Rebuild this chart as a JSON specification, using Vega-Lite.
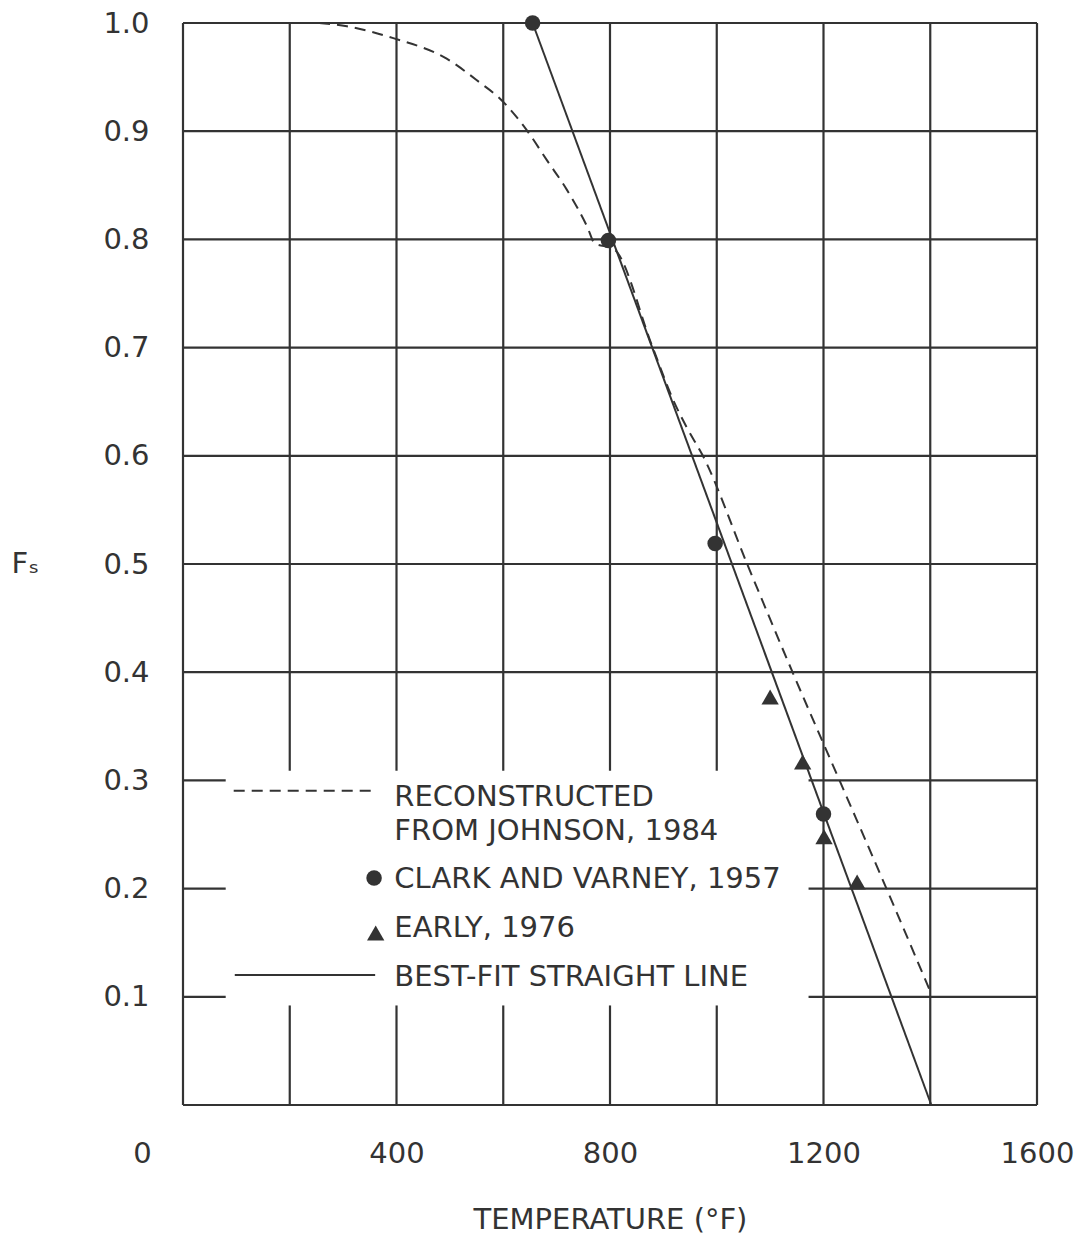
{
  "$schema": "https://vega.github.io/schema/vega-lite/v6.json",
  "width": 854,
  "height": 1082,
  "autosize": {"type": "none"},
  "padding": {"left": 183, "top": 23, "right": 52, "bottom": 151},
  "background": "white",
  "config": {
    "view": {"stroke": null},
    "font": "DejaVu Sans",
    "axis": {
      "labelFont": "DejaVu Sans",
      "labelFontSize": 29,
      "labelColor": "#333333",
      "titleFont": "DejaVu Sans",
      "titleFontSize": 29,
      "titleFontWeight": "normal",
      "titleColor": "#333333",
      "grid": false,
      "domain": false,
      "ticks": false,
      "tickSize": 0
    },
    "text": {"font": "DejaVu Sans", "fontSize": 29, "color": "#333333"}
  },
  "datasets": {
    "grid": [
      {"t": 0, "t2": 0, "fs": 0, "fs2": 1},
      {"t": 1200, "t2": 1200, "fs": 0, "fs2": 1},
      {"t": 1400, "t2": 1400, "fs": 0, "fs2": 1},
      {"t": 1600, "t2": 1600, "fs": 0, "fs2": 1},
      {"t": 200, "t2": 200, "fs": 0, "fs2": 0.092},
      {"t": 200, "t2": 200, "fs": 0.309, "fs2": 1},
      {"t": 400, "t2": 400, "fs": 0, "fs2": 0.092},
      {"t": 400, "t2": 400, "fs": 0.309, "fs2": 1},
      {"t": 600, "t2": 600, "fs": 0, "fs2": 0.092},
      {"t": 600, "t2": 600, "fs": 0.309, "fs2": 1},
      {"t": 800, "t2": 800, "fs": 0, "fs2": 0.092},
      {"t": 800, "t2": 800, "fs": 0.309, "fs2": 1},
      {"t": 1000, "t2": 1000, "fs": 0, "fs2": 0.092},
      {"t": 1000, "t2": 1000, "fs": 0.309, "fs2": 1},
      {"t": 0, "t2": 1600, "fs": 0, "fs2": 0},
      {"t": 0, "t2": 1600, "fs": 0.4, "fs2": 0.4},
      {"t": 0, "t2": 1600, "fs": 0.5, "fs2": 0.5},
      {"t": 0, "t2": 1600, "fs": 0.6, "fs2": 0.6},
      {"t": 0, "t2": 1600, "fs": 0.7, "fs2": 0.7},
      {"t": 0, "t2": 1600, "fs": 0.8, "fs2": 0.8},
      {"t": 0, "t2": 1600, "fs": 0.9, "fs2": 0.9},
      {"t": 0, "t2": 1600, "fs": 1.0, "fs2": 1.0},
      {"t": 0, "t2": 80, "fs": 0.1, "fs2": 0.1},
      {"t": 1172, "t2": 1600, "fs": 0.1, "fs2": 0.1},
      {"t": 0, "t2": 80, "fs": 0.2, "fs2": 0.2},
      {"t": 1172, "t2": 1600, "fs": 0.2, "fs2": 0.2},
      {"t": 0, "t2": 80, "fs": 0.3, "fs2": 0.3},
      {"t": 1172, "t2": 1600, "fs": 0.3, "fs2": 0.3}
    ],
    "johnson": [
      {"t": 255, "fs": 1.0},
      {"t": 307, "fs": 0.997},
      {"t": 394, "fs": 0.986},
      {"t": 494, "fs": 0.967},
      {"t": 556, "fs": 0.945},
      {"t": 594, "fs": 0.93},
      {"t": 644, "fs": 0.901},
      {"t": 682, "fs": 0.873},
      {"t": 719, "fs": 0.846},
      {"t": 757, "fs": 0.812},
      {"t": 772, "fs": 0.796},
      {"t": 805, "fs": 0.792},
      {"t": 880, "fs": 0.7},
      {"t": 918, "fs": 0.652},
      {"t": 944, "fs": 0.626},
      {"t": 974, "fs": 0.6},
      {"t": 1057, "fs": 0.5},
      {"t": 1142, "fs": 0.4},
      {"t": 1230, "fs": 0.3},
      {"t": 1318, "fs": 0.2},
      {"t": 1400, "fs": 0.105}
    ],
    "fit": [
      {"t": 655, "fs": 1.0},
      {"t": 1402, "fs": 0.0}
    ],
    "clark": [
      {"t": 655, "fs": 1.0},
      {"t": 797, "fs": 0.799},
      {"t": 997, "fs": 0.519},
      {"t": 1200, "fs": 0.269}
    ],
    "early": [
      {"t": 1100, "fs": 0.377},
      {"t": 1161, "fs": 0.317},
      {"t": 1201, "fs": 0.248},
      {"t": 1263, "fs": 0.206}
    ],
    "legendDash": [{"t": 95, "t2": 356, "fs": 0.2905, "fs2": 0.2905}],
    "legendSolid": [{"t": 97, "t2": 360, "fs": 0.1201, "fs2": 0.1201}],
    "legendCircle": [{"t": 358, "fs": 0.2098}],
    "legendTriangle": [{"t": 361, "fs": 0.159}],
    "legendText": [
      {"label": "RECONSTRUCTED", "t": 396, "fs": 0.2763},
      {"label": "FROM JOHNSON, 1984", "t": 396, "fs": 0.2449},
      {"label": "CLARK AND VARNEY, 1957", "t": 396, "fs": 0.2006},
      {"label": "EARLY, 1976", "t": 396, "fs": 0.1553},
      {"label": "BEST-FIT STRAIGHT LINE", "t": 396, "fs": 0.11}
    ]
  },
  "encoding": {
    "x": {
      "field": "t",
      "type": "quantitative",
      "scale": {"domain": [0, 1600], "nice": false, "zero": false},
      "axis": {
        "title": "TEMPERATURE (°F)",
        "values": [0, 400, 800, 1200, 1600],
        "format": "d",
        "labelFlush": false,
        "labelBaseline": "alphabetic",
        "labelPadding": 57,
        "labelOffset": {"condition": {"test": "datum.value === 0", "value": -41}, "value": 0},
        "titleBaseline": "alphabetic",
        "titleY": 123
      }
    },
    "y": {
      "field": "fs",
      "type": "quantitative",
      "scale": {"domain": [0, 1], "nice": false, "zero": false},
      "axis": {
        "title": "Fₛ",
        "values": [0.1, 0.2, 0.3, 0.4, 0.5, 0.6, 0.7, 0.8, 0.9, 1.0],
        "format": ".1f",
        "labelFlush": false,
        "labelPadding": 34,
        "labelBaseline": "middle",
        "titleAngle": 0,
        "titleAlign": "left",
        "titleBaseline": "alphabetic",
        "titleX": -172,
        "titleY": 549
      }
    }
  },
  "layer": [
    {
      "data": {"name": "grid"},
      "mark": {"type": "rule", "color": "#333333", "strokeWidth": 2.2},
      "encoding": {"x2": {"field": "t2"}, "y2": {"field": "fs2"}}
    },
    {
      "data": {"name": "johnson"},
      "mark": {"type": "line", "color": "#333333", "strokeWidth": 2, "strokeDash": [11, 7], "interpolate": "monotone"},
      "encoding": {"order": {"field": "t", "type": "quantitative"}}
    },
    {
      "data": {"name": "fit"},
      "mark": {"type": "line", "color": "#333333", "strokeWidth": 2},
      "encoding": {}
    },
    {
      "data": {"name": "clark"},
      "mark": {"type": "point", "shape": "circle", "filled": true, "color": "#333333", "size": 240, "opacity": 1},
      "encoding": {}
    },
    {
      "data": {"name": "early"},
      "mark": {"type": "point", "shape": "triangle-up", "filled": true, "color": "#333333", "size": 300, "opacity": 1},
      "encoding": {}
    },
    {
      "data": {"name": "legendDash"},
      "mark": {"type": "rule", "color": "#333333", "strokeWidth": 2, "strokeDash": [11, 7]},
      "encoding": {"x2": {"field": "t2"}, "y2": {"field": "fs2"}}
    },
    {
      "data": {"name": "legendSolid"},
      "mark": {"type": "rule", "color": "#333333", "strokeWidth": 2},
      "encoding": {"x2": {"field": "t2"}, "y2": {"field": "fs2"}}
    },
    {
      "data": {"name": "legendCircle"},
      "mark": {"type": "point", "shape": "circle", "filled": true, "color": "#333333", "size": 240, "opacity": 1},
      "encoding": {}
    },
    {
      "data": {"name": "legendTriangle"},
      "mark": {"type": "point", "shape": "triangle-up", "filled": true, "color": "#333333", "size": 300, "opacity": 1},
      "encoding": {}
    },
    {
      "data": {"name": "legendText"},
      "mark": {"type": "text", "align": "left", "baseline": "alphabetic", "font": "DejaVu Sans", "fontSize": 29, "color": "#333333"},
      "encoding": {"text": {"field": "label"}}
    }
  ]
}
